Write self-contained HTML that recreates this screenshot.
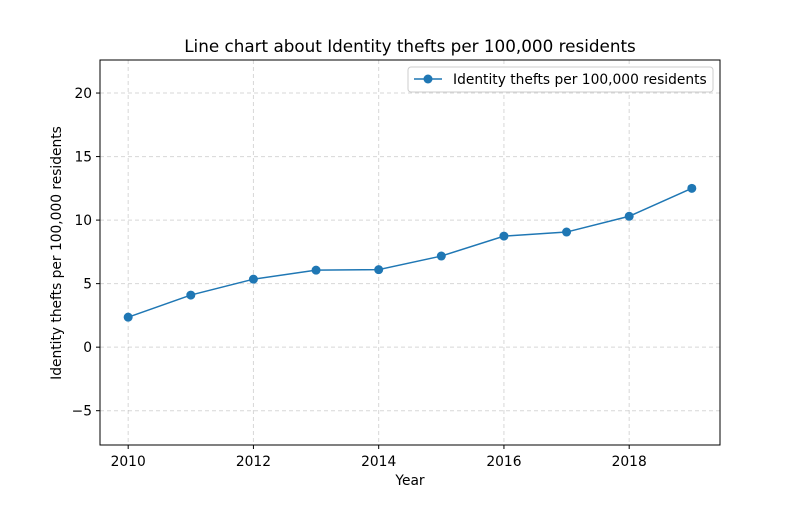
<!DOCTYPE html>
<html><head><meta charset="utf-8"><style>
body{margin:0;background:#fff;font-family:"Liberation Sans","DejaVu Sans",sans-serif;}
svg text{font-family:"DejaVu Sans","Liberation Sans",sans-serif;}
</style></head><body>
<svg id="chart" width="800" height="500" xmlns="http://www.w3.org/2000/svg"></svg>
<script>
const years=[2010,2011,2012,2013,2014,2015,2016,2017,2018,2019];
const values=[2.36,4.1,5.35,6.06,6.1,7.17,8.74,9.06,10.3,12.5];
const xTicks=[2010,2012,2014,2016,2018];
const yTicks=[-5,0,5,10,15,20];
const L=100,R=720,T=60,B=445;
const xMin=2009.55,xMax=2019.45,yMin=-7.7,yMax=22.6;
const sx=v=>L+(v-xMin)/(xMax-xMin)*(R-L);
const sy=v=>B-(v-yMin)/(yMax-yMin)*(B-T);
const svg=document.getElementById('chart');
const NS='http://www.w3.org/2000/svg';
function mk(t,a,txt){const e=document.createElementNS(NS,t);for(const k in a)e.setAttribute(k,a[k]);if(txt!=null)e.textContent=txt;svg.appendChild(e);return e;}
xTicks.forEach(v=>{const x=sx(v);
 let g=mk('line',{x1:x,x2:x,y1:T,y2:B,stroke:'#b0b0b0','stroke-opacity':0.5,'stroke-dasharray':'4,3'});
 
 
 mk('line',{x1:x,x2:x,y1:B,y2:B+4,stroke:'#000'});
 let t=mk('text',{x:x,y:B+21,'text-anchor':'middle','font-size':13.8},String(v));
 
 
});
yTicks.forEach(v=>{const y=sy(v);
 let g=mk('line',{x1:L,x2:R,y1:y,y2:y,stroke:'#b0b0b0','stroke-opacity':0.5,'stroke-dasharray':'4,3'});
 
 
 mk('line',{x1:L-4,x2:L,y1:y,y2:y,stroke:'#000'});
 let t=mk('text',{x:L-8,y:y+5,'text-anchor':'end','font-size':13.8},v<0?'\u2212'+Math.abs(v):String(v));
 
 
});
let pts=years.map((y,i)=>sx(y)+','+sy(values[i])).join(' ');
let line=mk('polyline',{points:pts,fill:'none',stroke:'#1f77b4','stroke-width':1.5});


years.forEach((y,i)=>{let c=mk('circle',{cx:sx(y),cy:sy(values[i]),r:4.5,fill:'#1f77b4'});
 
 
});
let ax=mk('rect',{x:L,y:T,width:R-L,height:B-T,fill:'none',stroke:'#000','stroke-width':1});


let title=mk('text',{x:410,y:52,'text-anchor':'middle','font-size':16.8},'Line chart about Identity thefts per 100,000 residents');


let xl=mk('text',{x:410,y:485,'text-anchor':'middle','font-size':13.8},'Year');


let yl=mk('text',{x:61,y:253,'text-anchor':'middle','font-size':13.8,transform:'rotate(-90 61 253)'},'Identity thefts per 100,000 residents');


let lg=mk('rect',{x:408,y:67,width:305,height:25,fill:'#fff',stroke:'#ccc',rx:3});


mk('line',{x1:414,x2:442,y1:79,y2:79,stroke:'#1f77b4','stroke-width':1.5});
mk('circle',{cx:428,cy:79,r:4.5,fill:'#1f77b4'});
let lt=mk('text',{x:453,y:84,'font-size':13.8},'Identity thefts per 100,000 residents');


</script>
</body></html>
